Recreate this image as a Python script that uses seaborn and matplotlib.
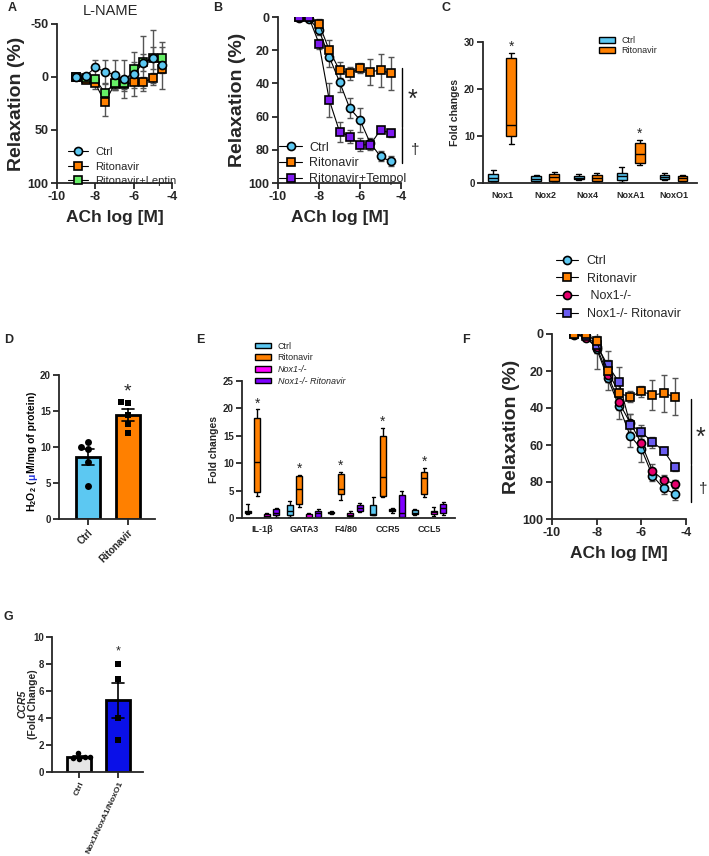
import numpy as np
import pandas as pd
import seaborn as sns
import matplotlib.pyplot as plt
from matplotlib.lines import Line2D
from matplotlib.patches import Patch

# ---------------- data ----------------
ach = [-9, -8.5, -8, -7.5, -7, -6.5, -6, -5.5, -5, -4.5]

# A: L-NAME
a_ctrl = [0, -1, -9, -5, -2, 2, -3, -13, -18, -11]
a_ctrl_sem = [2, 2, 7, 11, 14, 18, 21, 26, 26, 22]
a_rit = [0, 3, 6, 24, 7, 7, 5, 5, 1, -8]
a_rit_sem = [2, 2, 5, 13, 5, 6, 5, 5, 5, 4]
a_lep = [0, 1, 2, 15, 6, 6, -8, -14, -18, -18]
a_lep_sem = [2, 2, 3, 8, 5, 5, 6, 8, 10, 10]

# B: Tempol
b_ctrl = [0.5, 1, 8, 24, 39, 55, 62, 76, 84, 87]
b_ctrl_sem = [0, 0, 3, 6, 6, 6, 7, 3, 3, 3]
b_rit = [0, 0, 4, 20, 32, 34, 31, 33, 32, 34]
b_rit_sem = [0, 0, 3, 6, 5, 4, 3, 8, 10, 10]
b_tem = [0, 0, 16, 50, 69, 72, 77, 77, 68, 70]
b_tem_sem = [0, 0, 3, 10, 6, 4, 4, 3, 2, 2]

# C: Nox isoforms (min, q1, median, q3, max)
c_genes = ['Nox1', 'Nox2', 'Nox4', 'NoxA1', 'NoxO1']
c_ctrl = [[0.2, 0.5, 1.0, 1.9, 2.8], [0.3, 0.5, 0.9, 1.4, 1.6], [0.7, 0.8, 1.1, 1.5, 1.9],
          [0.3, 0.6, 1.5, 2.2, 3.5], [0.6, 0.8, 1.3, 1.7, 2.2]]
c_rit = [[8.2, 9.9, 12.3, 26.5, 27.7], [0.3, 0.5, 1.2, 1.9, 2.3], [0.2, 0.5, 1.0, 1.7, 2.1],
         [3.9, 4.3, 6.2, 8.6, 9.2], [0.3, 0.5, 1.0, 1.4, 1.7]]
c_sig = ['Nox1', 'NoxA1']

# D: H2O2
d_groups = ['Ctrl', 'Ritonavir']
d_ctrl = [10.7, 9.7, 10.0, 7.9, 4.6]
d_rit = [16.2, 16.1, 14.5, 13.2, 12.0]

# E: inflammatory markers (min, q1, median, q3, max)
e_genes = ['IL-1β', 'GATA3', 'F4/80', 'CCR5', 'CCL5']
e_groups = ['Ctrl', 'Ritonavir', 'Nox1-/-', 'Nox1-/- Ritonavir']
e_ctrl = [[0.8, 1.0, 1.1, 1.2, 2.5], [0.2, 0.5, 1.3, 2.3, 3.1], [0.8, 0.9, 1.0, 1.1, 1.2],
          [0.5, 0.6, 0.8, 2.4, 3.9], [0.6, 0.7, 1.0, 1.4, 1.6]]
e_rit = [[4.0, 4.8, 10.2, 18.2, 19.8], [2.0, 2.5, 5.3, 7.6, 7.9], [3.3, 4.3, 5.3, 8.1, 8.4],
         [3.8, 4.0, 7.4, 15.0, 16.4], [3.9, 4.3, 7.3, 8.4, 9.2]]
e_nox = [[0.0, 0.0, 0.3, 0.8, 1.0], [0.0, 0.0, 0.2, 0.8, 1.0], [0.1, 0.3, 0.6, 0.9, 1.2],
         [1.0, 1.2, 1.4, 1.6, 1.9], [0.3, 0.8, 1.1, 1.3, 2.0]]
e_noxrit = [[0.2, 0.5, 1.0, 1.6, 1.8], [0.0, 0.2, 0.9, 1.3, 1.7], [1.1, 1.3, 1.9, 2.4, 2.8],
            [0.0, 0.2, 1.0, 4.2, 5.0], [0.5, 0.9, 1.9, 2.6, 2.9]]

# F: Nox1 knockout
f_ctrl = [0.5, 1, 8, 24, 39, 55, 62, 76.6, 83.4, 86.5]
f_ctrl_sem = [0, 0, 11, 6, 7, 6, 7, 3, 3, 3]
f_rit = [0, 0, 4, 20, 32, 34, 31, 33, 32, 34]
f_rit_sem = [0, 0, 3, 6, 5, 3, 3, 8, 10, 10]
f_nox = [0, 2, 7, 22, 37, 48, 59, 74, 79, 81]
f_nox_sem = [0, 1, 3, 4, 4, 5, 4, 4, 3, 2]
f_noxrit = [0, 1, 6, 17, 26, 49, 53, 58.5, 63, 72]
f_noxrit_sem = [0, 1, 4, 8, 8, 6, 4, 3, 2, 2]

# G: CCR5
g_groups = ['Ctrl', 'Nox1/NoxA1/NoxO1']
g_ctrl = [1.4, 1.1, 1.05, 1.0, 1.1]
g_nox = [8.0, 6.9, 4.0, 2.4]

# colours
ctrl_c = '#5CC8F2'
rit_c = '#FF8000'
lep_c = '#66EE66'
tem_c = '#7F1AF0'
e_nox_c = '#FF00FF'
e_noxrit_c = '#7F00FF'
f_nox_c = '#E8006E'
f_noxrit_c = '#6A5CF0'

# ---------------- style ----------------
sns.set_style('ticks')
plt.rcParams['font.family'] = ['Liberation Sans', 'DejaVu Sans']
plt.rcParams.update({
    'font.weight': 'bold',
    'axes.linewidth': 1.3,
    'xtick.major.width': 1.3, 'ytick.major.width': 1.3,
    'xtick.major.size': 4, 'ytick.major.size': 4,
    'xtick.major.pad': 2, 'ytick.major.pad': 2,
    'axes.unicode_minus': False,
    'mathtext.fontset': 'custom',
    'mathtext.rm': 'Liberation Sans:bold',
    'mathtext.bf': 'Liberation Sans:bold',
    'mathtext.default': 'bf',
})

W, H = 709, 856
fig = plt.figure(figsize=(W / 100, H / 100), dpi=100)


def panel_axes(left, top, right, bottom):
    ax = fig.add_axes([left / W, 1 - bottom / H, (right - left) / W, (bottom - top) / H])
    sns.despine(ax=ax)
    return ax


def letter(x, y, s):
    fig.text(x / W, 1 - y / H, s, fontsize=9, fontweight='bold', ha='left', va='center')


def curve(ax, y, sem, color, marker, ms=5.8):
    ax.errorbar(ach, y, yerr=sem, fmt='none', ecolor='#555555', elinewidth=1,
                capsize=2.5, capthick=1, zorder=2)
    sns.lineplot(x=ach, y=y, ax=ax, color='black', linewidth=0.8, errorbar=None,
                 marker=marker, markersize=ms, markerfacecolor=color,
                 markeredgecolor='black', markeredgewidth=1.2, zorder=3)


def curve_handle(color, marker, ms=5.8):
    return Line2D([], [], color='black', lw=0.8, marker=marker, ms=ms, mfc=color,
                  mec='black', mew=1.2)


def relax_axes(ax, ylim, yticks):
    ax.set_xlim(-10, -4)
    ax.set_ylim(*ylim)
    ax.set_xticks([-10, -8, -6, -4])
    ax.set_yticks(yticks)
    ax.tick_params(labelsize=9)
    ax.set_xlabel('ACh log [M]', fontsize=12.5, fontweight='bold', labelpad=5)
    ax.set_ylabel('Relaxation (%)', fontsize=14, fontweight='bold', labelpad=2)


def box_frame(cats, groups, boxes):
    rows = []
    for g, per_cat in zip(groups, boxes):
        for cat, five in zip(cats, per_cat):
            for v in five:
                rows.append((cat, g, v))
    return pd.DataFrame(rows, columns=['cat', 'group', 'value'])


# ---------------- A ----------------
axA = panel_axes(57, 24, 172, 183)
curve(axA, a_rit, a_rit_sem, rit_c, 's')
curve(axA, a_lep, a_lep_sem, lep_c, 's')
curve(axA, a_ctrl, a_ctrl_sem, ctrl_c, 'o')
relax_axes(axA, (100, -50), [-50, 0, 50, 100])
axA.legend([curve_handle(ctrl_c, 'o'), curve_handle(rit_c, 's'), curve_handle(lep_c, 's')],
           ['Ctrl', 'Ritonavir', 'Ritonavir+Leptin'], loc='lower left',
           bbox_to_anchor=(0.05, -0.055), frameon=False, handlelength=1.8, handletextpad=0.6,
           labelspacing=0.4, borderpad=0, prop={'size': 8, 'weight': 'normal'})
fig.text(110 / W, 1 - 11 / H, 'L-NAME', fontsize=10.5, fontweight='normal', ha='center', va='center')
letter(8, 8, 'A')

# ---------------- B ----------------
axB = panel_axes(278, 17, 401, 183)
curve(axB, b_ctrl, b_ctrl_sem, ctrl_c, 'o')
curve(axB, b_rit, b_rit_sem, rit_c, 's')
curve(axB, b_tem, b_tem_sem, tem_c, 's')
relax_axes(axB, (100, 0), [0, 20, 40, 60, 80, 100])
axB.legend([curve_handle(ctrl_c, 'o'), curve_handle(rit_c, 's'), curve_handle(tem_c, 's')],
           ['Ctrl', 'Ritonavir', 'Ritonavir+Tempol'], loc='lower left',
           bbox_to_anchor=(-0.04, -0.05), frameon=False, handlelength=1.8, handletextpad=0.6,
           labelspacing=0.3, borderpad=0, prop={'size': 9, 'weight': 'normal'})
axB.plot([-3.95, -3.95], [31, 66], color='black', lw=1, clip_on=False)
axB.plot([-3.95, -3.95], [67, 88], color='black', lw=1, clip_on=False)
axB.text(-3.45, 50, '*', fontsize=18, fontweight='normal', ha='center', va='center')
axB.text(-3.3, 80, '†', fontsize=11, fontweight='normal', ha='center', va='center')
letter(213, 8, 'B')

# ---------------- C ----------------
axC = panel_axes(483, 42, 697, 183)
c_df = box_frame(c_genes, ['Ctrl', 'Ritonavir'], [c_ctrl, c_rit])
sns.boxplot(data=c_df, x='cat', y='value', hue='group', order=c_genes,
            hue_order=['Ctrl', 'Ritonavir'], palette=[ctrl_c, rit_c], whis=(0, 100),
            width=0.84, gap=0.45, linewidth=1, linecolor='black', showfliers=False,
            saturation=1, ax=axC, legend=False)
for g in c_sig:
    i = c_genes.index(g)
    top = c_rit[i][-1]
    axC.text(i + 0.21, top + 1.3, '*', fontsize=10, fontweight='normal', ha='center', va='center')
axC.set_xlim(-0.45, 4.55)
axC.set_ylim(0, 30)
axC.set_yticks([0, 10, 20, 30])
axC.set_xlabel('')
axC.set_ylabel('Fold changes', fontsize=7.5, fontweight='bold', labelpad=3)
axC.tick_params(axis='x', labelsize=6.5, length=0, pad=6)
axC.tick_params(axis='y', labelsize=7)
axC.legend([Patch(facecolor=ctrl_c, edgecolor='black'), Patch(facecolor=rit_c, edgecolor='black')],
           ['Ctrl', 'Ritonavir'], loc='upper left', bbox_to_anchor=(0.52, 1.075), frameon=False,
           handlelength=1.8, handleheight=0.6, handletextpad=0.7, labelspacing=0.15, borderpad=0,
           prop={'size': 6.5, 'weight': 'normal'})
letter(441, 8, 'C')

# ---------------- D ----------------
axD = panel_axes(59, 375, 155, 519)
d_df = pd.DataFrame({'group': ['Ctrl'] * len(d_ctrl) + ['Ritonavir'] * len(d_rit),
                     'value': d_ctrl + d_rit})
sns.barplot(data=d_df, x='group', y='value', hue='group', order=d_groups,
            palette=[ctrl_c, rit_c], errorbar='se', capsize=0.3, width=0.62, saturation=1,
            edgecolor='black', linewidth=2, err_kws={'color': 'black', 'linewidth': 1.2},
            ax=axD, legend=False)
sns.swarmplot(data=d_df[d_df.group == 'Ctrl'], x='group', y='value', order=d_groups,
              color='black', marker='o', size=5, ax=axD)
sns.swarmplot(data=d_df[d_df.group == 'Ritonavir'], x='group', y='value', order=d_groups,
              color='black', marker='s', size=5, ax=axD)
axD.text(1, max(d_rit) + 1.5, '*', fontsize=14, fontweight='normal', ha='center', va='center')
axD.set_xlim(-0.73, 1.68)
axD.set_ylim(0, 20)
axD.set_yticks([0, 5, 10, 15, 20])
axD.set_xlabel('')
axD.set_ylabel('')
axD.tick_params(labelsize=7)
axD.set_xticks([0, 1])
axD.set_xticklabels(d_groups, rotation=45, ha='right', rotation_mode='anchor', fontsize=7)

# y label with a blue micro sign, built from pieces along one baseline
renderer = fig.canvas.get_renderer()
d_parts = [('H$_2$O$_2$ (', 'black'), ('μ', '#2233DD'), ('M/mg of protein)', 'black')]
widths = []
for s, c in d_parts:
    t = fig.text(0, 0, s, fontsize=7.5, fontweight='bold')
    widths.append(t.get_window_extent(renderer).width)
    t.remove()
y_px = 452 + sum(widths) / 2
for (s, c), w in zip(d_parts, widths):
    fig.text(35 / W, 1 - y_px / H, s, fontsize=7.5, fontweight='bold', color=c,
             rotation=90, rotation_mode='anchor', ha='left', va='baseline')
    y_px -= w
letter(4, 340, 'D')

# ---------------- E ----------------
axE = panel_axes(242, 381, 455, 518)
e_df = box_frame(e_genes, e_groups, [e_ctrl, e_rit, e_nox, e_noxrit])
e_pal = [ctrl_c, rit_c, e_nox_c, e_noxrit_c]
sns.boxplot(data=e_df, x='cat', y='value', hue='group', order=e_genes, hue_order=e_groups,
            palette=e_pal, whis=(0, 100), width=0.91, gap=0.37, linewidth=1,
            linecolor='black', showfliers=False, saturation=1, ax=axE, legend=False)
for i, five in enumerate(e_rit):
    axE.text(i - 0.114, five[-1] + 1.1, '*', fontsize=10, fontweight='normal',
             ha='center', va='center')
axE.set_xlim(-0.48, 4.62)
axE.set_ylim(0, 25)
axE.set_yticks([0, 5, 10, 15, 20, 25])
axE.set_xlabel('')
axE.set_ylabel('Fold changes', fontsize=7.5, fontweight='bold', labelpad=3)
axE.tick_params(axis='x', labelsize=6.5, length=0, pad=5)
axE.tick_params(axis='y', labelsize=7)
legE = axE.legend([Patch(facecolor=c, edgecolor='black') for c in e_pal], e_groups,
                  loc='upper left', bbox_to_anchor=(0.04, 1.32), frameon=False,
                  handlelength=1.8, handleheight=0.6, handletextpad=0.7, labelspacing=0.3,
                  borderpad=0, prop={'size': 6.5, 'weight': 'normal'})
for t in legE.get_texts()[2:]:
    t.set_fontstyle('italic')
letter(196, 340, 'E')

# ---------------- F ----------------
axF = panel_axes(552, 334, 686, 519)
curve(axF, f_ctrl, f_ctrl_sem, ctrl_c, 'o')
curve(axF, f_nox, f_nox_sem, f_nox_c, 'o')
curve(axF, f_noxrit, f_noxrit_sem, f_noxrit_c, 's')
curve(axF, f_rit, f_rit_sem, rit_c, 's')
relax_axes(axF, (100, 0), [0, 20, 40, 60, 80, 100])
axF.legend([curve_handle(ctrl_c, 'o'), curve_handle(rit_c, 's'), curve_handle(f_nox_c, 'o'),
            curve_handle(f_noxrit_c, 's')],
           ['Ctrl', 'Ritonavir', ' Nox1-/-', 'Nox1-/- Ritonavir'], loc='upper left',
           bbox_to_anchor=(-0.02, 1.46), frameon=False, handlelength=1.8, handletextpad=0.7,
           labelspacing=0.45, borderpad=0, prop={'size': 9, 'weight': 'normal'})
axF.plot([-3.78, -3.78], [35, 70], color='black', lw=1, clip_on=False)
axF.plot([-3.78, -3.78], [71, 91], color='black', lw=1, clip_on=False)
axF.text(-3.33, 56, '*', fontsize=18, fontweight='normal', ha='center', va='center')
axF.text(-3.24, 84, '†', fontsize=11, fontweight='normal', ha='center', va='center')
letter(462, 340, 'F')

# ---------------- G ----------------
axG = panel_axes(52, 637, 143, 772)
g_df = pd.DataFrame({'group': [g_groups[0]] * len(g_ctrl) + [g_groups[1]] * len(g_nox),
                     'value': g_ctrl + g_nox})
sns.barplot(data=g_df, x='group', y='value', hue='group', order=g_groups,
            palette=['#E6E6E6', '#0A10E8'], errorbar='se', capsize=0.3, width=0.62,
            saturation=1, edgecolor='black', linewidth=2,
            err_kws={'color': 'black', 'linewidth': 1.2}, ax=axG, legend=False)
sns.swarmplot(data=g_df[g_df.group == g_groups[0]], x='group', y='value', order=g_groups,
              color='black', marker='o', size=4, ax=axG)
sns.swarmplot(data=g_df[g_df.group == g_groups[1]], x='group', y='value', order=g_groups,
              color='black', marker='s', size=4, ax=axG)
axG.text(1, max(g_nox) + 0.9, '*', fontsize=9, fontweight='normal', ha='center', va='center')
axG.set_xlim(-0.69, 1.64)
axG.set_ylim(0, 10)
axG.set_yticks([0, 2, 4, 6, 8, 10])
axG.set_xlabel('')
axG.set_ylabel('')
axG.tick_params(labelsize=7)
axG.set_xticks([0, 1])
axG.set_xticklabels(g_groups, rotation=65, ha='right', rotation_mode='anchor', fontsize=6)
fig.text(22 / W, 1 - 704 / H, 'CCR5', fontsize=7.5, fontweight='bold', fontstyle='italic',
         rotation=90, ha='center', va='center')
fig.text(33 / W, 1 - 704 / H, '(Fold Change)', fontsize=7.5, fontweight='bold',
         rotation=90, ha='center', va='center')
letter(4, 617, 'G')

fig.savefig('out.png', dpi=100)
